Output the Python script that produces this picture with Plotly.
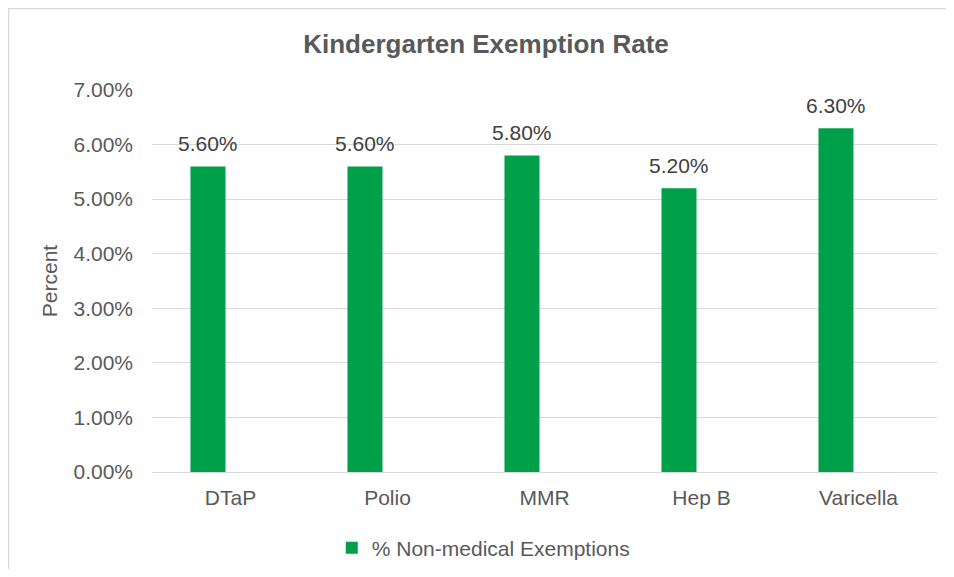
import plotly.graph_objects as go

# chart data
vaccines = ["DTaP", "Polio", "MMR", "Hep B", "Varicella"]
exempt_pct = [5.6, 5.6, 5.8, 5.2, 6.3]
y_ticks = [0, 1, 2, 3, 4, 5, 6, 7]
y_tick_labels = ["0.00%", "1.00%", "2.00%", "3.00%", "4.00%", "5.00%", "6.00%", "7.00%"]

font_name = "Liberation Sans, Arial, sans-serif"
green = "#00A04B"
grey_text = "#595959"

# page body has an 8px margin on every side, keep the figure inside the window
W, H = 938, 561
ml, mr, mt, mb = 144, 9, 82, 97
pw, ph = W - ml - mr, H - mt - mb

# excel draws the bar in the left slot of a two-series cluster
bar_w = 0.223
bar_off = -0.255

fig = go.Figure()
fig.add_trace(go.Bar(
    x=vaccines, y=exempt_pct, name="% Non-medical Exemptions",
    marker=dict(color=green, line=dict(width=0)),
    width=bar_w, offset=bar_off,
))

# data labels above bars
for i, p in enumerate(exempt_pct):
    fig.add_annotation(
        x=i + bar_off + bar_w / 2, y=p, text=f"{p:.2f}%", showarrow=False,
        yanchor="bottom", yshift=9,
        font=dict(family=font_name, size=21, color="#404040"),
    )

# light grey chart-area border (left and top edges only are visible)
fig.add_shape(type="rect", xref="paper", yref="paper",
              x0=(0.5 - ml) / pw, x1=(W + 60 - ml) / pw,
              y0=-(mb + 60) / ph, y1=(ph + mt - 0.5) / ph,
              fillcolor="white", line=dict(color="#d9d9d9", width=1.5),
              layer="below")

fig.update_layout(
    width=W, height=H,
    margin=dict(l=ml, r=mr, t=mt, b=mb, autoexpand=False),
    paper_bgcolor="white",
    plot_bgcolor="rgba(0,0,0,0)",
    font=dict(family=font_name, size=21, color=grey_text),
    title=dict(text="<b>Kindergarten Exemption Rate</b>", x=478 / W, xanchor="center",
               y=1 - 36 / H, yanchor="middle",
               font=dict(family=font_name, size=26, color=grey_text)),
    showlegend=True,
    legend=dict(orientation="h", x=0.422, xanchor="center",
                y=1 - 540 / H, yref="container", yanchor="middle",
                bgcolor="rgba(0,0,0,0)",
                font=dict(size=21, color=grey_text), itemwidth=30),
)
fig.update_yaxes(
    range=[0, 7], tickvals=y_ticks, ticktext=y_tick_labels,
    showgrid=True, gridcolor="#d9d9d9", gridwidth=1.3,
    zeroline=True, zerolinecolor="#d9d9d9", zerolinewidth=1.3,
    showline=False, ticks="", ticklabelstandoff=18,
    title=dict(text="Percent", font=dict(size=21, color=grey_text), standoff=10),
)
fig.update_xaxes(showline=False, ticks="", ticklabelstandoff=11,
                 range=[-0.5, 4.5],
                 tickfont=dict(size=21, color=grey_text))

fig.write_html("out.html")
